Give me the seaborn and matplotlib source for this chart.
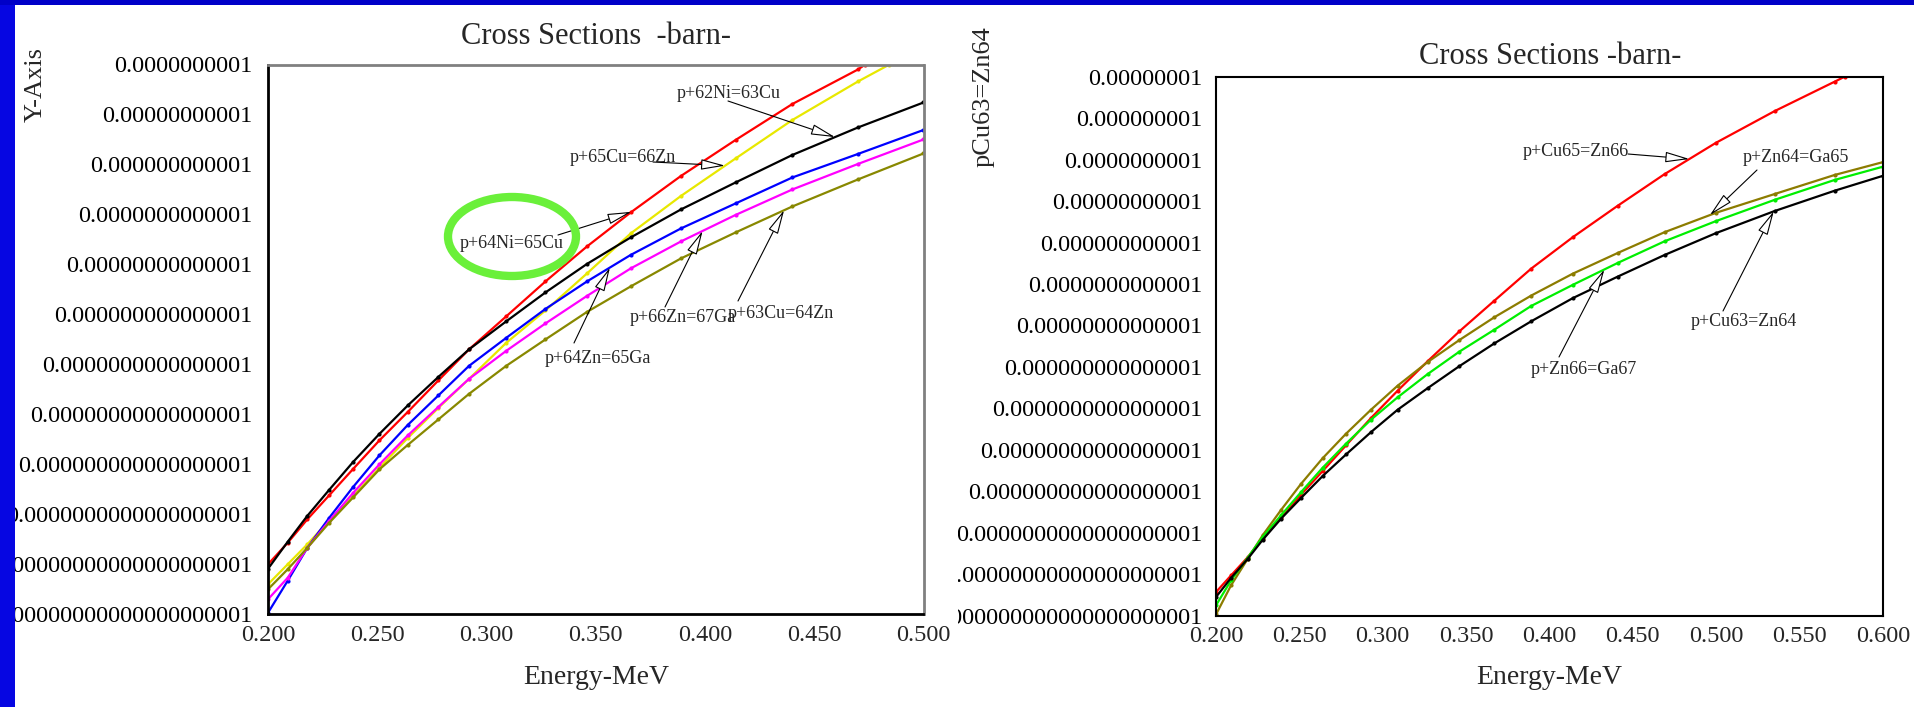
import numpy as np
import pandas as pd
import matplotlib
matplotlib.use("Agg")
import matplotlib.pyplot as plt
import seaborn as sns
from matplotlib.ticker import FixedLocator, MultipleLocator, LogLocator, NullFormatter
from matplotlib.patches import Rectangle, Ellipse
from matplotlib.transforms import Bbox, TransformedBbox

W, H = 1915, 707

# ---- left panel: log10 of cross section ----
left_energy = [0.200, 0.209, 0.218, 0.228, 0.239, 0.251, 0.264, 0.278, 0.292,
               0.309, 0.327, 0.346, 0.366, 0.389, 0.414, 0.440, 0.470, 0.500]
ni64_cu65_energy = left_energy[:-1] + [0.473]
ni64_cu65 = [-20.00, -19.57, -19.10, -18.62, -18.09, -17.52, -16.95, -16.32, -15.70,
             -15.04, -14.34, -13.64, -12.96, -12.23, -11.51, -10.79, -10.10, -10.01]
cu65_zn66_energy = left_energy[:-1] + [0.484]
cu65_zn66 = [-20.40, -20.00, -19.60, -19.12, -18.63, -18.07, -17.47, -16.87, -16.29,
             -15.57, -14.92, -14.18, -13.38, -12.63, -11.88, -11.11, -10.34, -10.01]
ni62_cu63 = [-20.09, -19.55, -19.03, -18.51, -17.95, -17.39, -16.82, -16.25, -15.70,
             -15.14, -14.56, -13.99, -13.46, -12.90, -12.36, -11.81, -11.26, -10.76]
zn64_ga65 = [-20.97, -20.33, -19.67, -19.07, -18.45, -17.82, -17.21, -16.62, -16.03,
             -15.47, -14.89, -14.34, -13.81, -13.28, -12.78, -12.26, -11.79, -11.31]
zn66_ga67 = [-20.70, -20.27, -19.67, -19.13, -18.57, -18.00, -17.42, -16.85, -16.29,
             -15.73, -15.18, -14.63, -14.08, -13.54, -13.01, -12.50, -11.99, -11.50]
cu63_zn64 = [-20.50, -20.10, -19.67, -19.17, -18.66, -18.10, -17.61, -17.10, -16.59,
             -16.03, -15.50, -14.95, -14.44, -13.88, -13.36, -12.84, -12.30, -11.78]

# ---- right panel ----
right_energy = [0.200, 0.209, 0.219, 0.228, 0.239, 0.251, 0.264, 0.278, 0.293, 0.309,
                0.327, 0.346, 0.367, 0.389, 0.414, 0.441, 0.469, 0.500, 0.535, 0.571, 0.600]
r_cu65_zn66_energy = right_energy[:-1] + [0.577]
r_cu65_zn66 = [-20.43, -20.03, -19.59, -19.14, -18.65, -18.08, -17.51, -16.89, -16.23, -15.57,
               -14.86, -14.14, -13.40, -12.63, -11.87, -11.11, -10.35, -9.59, -8.83, -8.12, -8.00]
r_zn64_ga65 = [-20.97, -20.27, -19.63, -19.06, -18.45, -17.82, -17.20, -16.61, -16.03, -15.45,
               -14.88, -14.35, -13.80, -13.28, -12.75, -12.25, -11.75, -11.28, -10.83, -10.37, -10.06]
r_zn66_ga67 = [-20.75, -20.15, -19.60, -19.10, -18.58, -18.02, -17.43, -16.85, -16.27, -15.73,
               -15.17, -14.63, -14.10, -13.53, -13.02, -12.49, -11.97, -11.48, -10.97, -10.49, -10.17]
r_cu63_zn64 = [-20.55, -20.09, -19.63, -19.17, -18.66, -18.16, -17.63, -17.11, -16.57, -16.03,
               -15.51, -14.98, -14.43, -13.90, -13.34, -12.82, -12.30, -11.77, -11.24, -10.75, -10.39]

left_yticks = [10.0 ** -n for n in range(21, 9, -1)]
right_yticks = [10.0 ** -n for n in range(21, 7, -1)]
left_xticks = [0.200, 0.250, 0.300, 0.350, 0.400, 0.450, 0.500]
right_xticks = [0.200, 0.250, 0.300, 0.350, 0.400, 0.450, 0.500, 0.550, 0.600]


def dec_label(v):
    n = int(round(-np.log10(v)))
    return f"{v:.{n}f}"


def frame(series):
    rows = []
    for name, (e, lg) in series.items():
        for x, y in zip(e, lg):
            rows.append((name, x, 10.0 ** y))
    return pd.DataFrame(rows, columns=["reaction", "energy", "sigma"])


left_series = {
    "p+64Ni=65Cu": (ni64_cu65_energy, ni64_cu65),
    "p+65Cu=66Zn": (cu65_zn66_energy, cu65_zn66),
    "p+62Ni=63Cu": (left_energy, ni62_cu63),
    "p+64Zn=65Ga": (left_energy, zn64_ga65),
    "p+66Zn=67Ga": (left_energy, zn66_ga67),
    "p+63Cu=64Zn": (left_energy, cu63_zn64),
}
left_colors = {"p+64Ni=65Cu": "#ff0000", "p+65Cu=66Zn": "#e8e800", "p+62Ni=63Cu": "#000000",
               "p+64Zn=65Ga": "#0000ff", "p+66Zn=67Ga": "#ff00ff", "p+63Cu=64Zn": "#888800"}
right_series = {
    "p+Cu65=Zn66": (r_cu65_zn66_energy, r_cu65_zn66),
    "p+Zn64=Ga65": (right_energy, r_zn64_ga65),
    "p+Zn66=Ga67": (right_energy, r_zn66_ga67),
    "p+Cu63=Zn64": (right_energy, r_cu63_zn64),
}
right_colors = {"p+Cu65=Zn66": "#ff0000", "p+Zn64=Ga65": "#8c7c00",
                "p+Zn66=Ga67": "#00ee00", "p+Cu63=Zn64": "#000000"}

sns.set_theme(style="white")
plt.rcParams["font.family"] = ["Liberation Serif", "DejaVu Serif"]

fig = plt.figure(figsize=(W / 100, H / 100), dpi=100)
fig.patch.set_facecolor("white")


def fpos(x, y):
    return x / W, 1 - y / H


ax1 = fig.add_axes([268 / W, 1 - 614.3 / H, 655.5 / W, 549.8 / H])
ax2 = fig.add_axes([1216 / W, 1 - 615.7 / H, 667 / W, 539 / H])

for ax, series, colors, yt, xt, ypad in [
        (ax1, left_series, left_colors, left_yticks, left_xticks, 11.5),
        (ax2, right_series, right_colors, right_yticks, right_xticks, 10)]:
    df = frame(series)
    sns.lineplot(data=df, x="energy", y="sigma", hue="reaction", palette=colors,
                 hue_order=list(series), sort=False, estimator=None, legend=False,
                 marker="o", markersize=3, markeredgewidth=0, linewidth=1.6, ax=ax)
    ax.set_yscale("log")
    ax.set_ylim(yt[0], yt[-1])
    ax.set_xlim(xt[0], xt[-1])
    ax.yaxis.set_major_locator(FixedLocator(yt))
    ax.set_yticklabels([dec_label(v) for v in yt])
    ax.yaxis.set_minor_locator(LogLocator(base=10, subs=np.arange(2, 10), numticks=100))
    ax.yaxis.set_minor_formatter(NullFormatter())
    ax.set_xticks(xt)
    ax.set_xticklabels([f"{v:.3f}" for v in xt])
    ax.xaxis.set_minor_locator(MultipleLocator(0.025))
    ax.tick_params(axis="y", which="major", direction="in", length=15, width=1.2,
                   pad=ypad, labelsize=17.5, colors="black")
    ax.tick_params(axis="y", which="minor", direction="in", length=8, width=1.0)
    ax.tick_params(axis="x", which="major", direction="in", length=22, width=1.2,
                   pad=7.5, labelsize=17.5)
    ax.tick_params(axis="x", which="minor", direction="in", length=11, width=1.0)
    ax.set_xlabel("Energy-MeV", fontsize=20)
    ax.xaxis.label.set_va("center")
    ax.set_facecolor("white")

ax1.xaxis.set_label_coords(0.5, (614.3 - 678) / 549.8)
ax2.xaxis.set_label_coords(0.5, (615.7 - 678) / 539)
ax1.set_ylabel("Y-Axis", fontsize=19, va="center")
ax1.yaxis.set_label_coords((36 - 268) / 655.5, (614.3 - 84) / 549.8)
ax2.set_ylabel("pCu63=Zn64", fontsize=19, va="center")
ax2.yaxis.set_label_coords((984 - 1216) / 667, (615.7 - 97) / 539)

for side in ["left", "bottom"]:
    ax1.spines[side].set_color("black")
    ax1.spines[side].set_linewidth(2)
for side in ["top", "right"]:
    ax1.spines[side].set_color("#808080")
    ax1.spines[side].set_linewidth(2)
for side in ax2.spines:
    ax2.spines[side].set_color("black")
    ax2.spines[side].set_linewidth(1.5)

fig.text(*fpos(596, 36), "Cross Sections  -barn-", fontsize=22, ha="center", va="center")
fig.text(*fpos(1550, 57), "Cross Sections -barn-", fontsize=22, ha="center", va="center")

# right panel labels are cut where that picture began
clip = TransformedBbox(Bbox.from_extents(958 / W, 0, 1, 1), fig.transFigure)
for t in ax2.yaxis.get_major_ticks():
    t.label1.set_clip_box(clip)
    t.label1.set_clip_on(True)

arrow = dict(arrowstyle="-|>,head_length=1.0,head_width=0.22", fc="white", ec="black",
             lw=0.8, shrinkA=0, shrinkB=0, mutation_scale=15)


def note(ax, series, name, text_xy, tail_xy, tip_e):
    e, lg = series[name]
    tip = (tip_e, 10.0 ** np.interp(tip_e, e, lg))
    ax.annotate("", xy=tip, xycoords="data", xytext=fpos(*tail_xy),
                textcoords="figure fraction", arrowprops=arrow)
    fig.text(*fpos(*text_xy), name, fontsize=13, ha="center", va="center")


note(ax1, left_series, "p+62Ni=63Cu", (729, 93), (728, 101), 0.4595)
note(ax1, left_series, "p+65Cu=66Zn", (623, 157), (653, 162), 0.4092)
note(ax1, left_series, "p+64Ni=65Cu", (512, 243), (558, 235), 0.3664)
note(ax1, left_series, "p+66Zn=67Ga", (683, 317), (665, 307), 0.3989)
note(ax1, left_series, "p+63Cu=64Zn", (781, 314), (738, 301), 0.4362)
note(ax1, left_series, "p+64Zn=65Ga", (598, 358), (574, 343), 0.3565)

note(ax2, right_series, "p+Cu65=Zn66", (1576, 152), (1628, 154), 0.4839)
note(ax2, right_series, "p+Zn64=Ga65", (1796, 157), (1757, 170), 0.4962)
note(ax2, right_series, "p+Cu63=Zn64", (1744, 322), (1723, 311), 0.5345)
note(ax2, right_series, "p+Zn66=Ga67", (1584, 370), (1559, 357), 0.4329)

# green highlight ring
fig.add_artist(Ellipse(fpos(512, 236.5), 128 / W, 79 / H, transform=fig.transFigure,
                       fill=False, ec="#6af03a", lw=6, zorder=5))

# blue slide frame
fig.add_artist(Rectangle((0, 0), 15 / W, 1, transform=fig.transFigure,
                         fc="#0606e2", ec="none", zorder=10))
fig.add_artist(Rectangle((0, 1 - 5 / H), 1, 5 / H, transform=fig.transFigure,
                         fc="#0000c8", ec="none", zorder=10))

fig.savefig("out.png", dpi=100)
